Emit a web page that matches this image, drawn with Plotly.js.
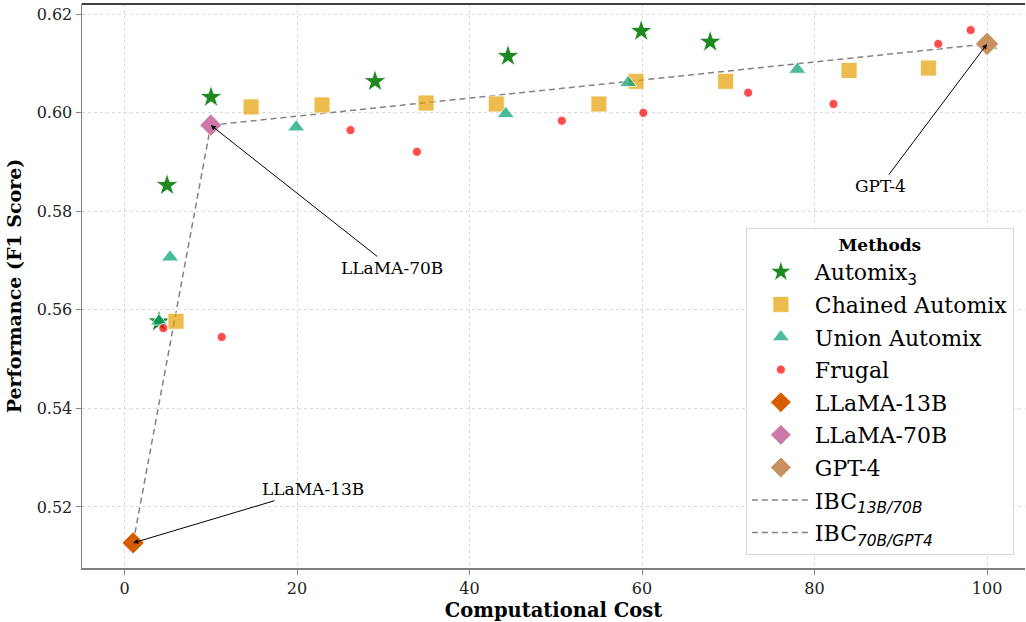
<!DOCTYPE html>
<html>
<head>
<meta charset="utf-8">
<script src="https://cdn.plot.ly/plotly-3.0.1.min.js"></script>
<style>html,body{margin:0;padding:0;background:#fff;}#chart{width:1026px;height:622px;}</style>
</head>
<body>
<div id="chart"></div>
<script>
// ---- data ----
const automixX = [4.0, 4.93, 10.03, 29.04, 44.46, 59.9, 67.9];
const automixY = [0.5576, 0.5853, 0.6032, 0.6064, 0.6115, 0.6166, 0.6144];

const chainedX = [5.97, 14.67, 22.9, 34.96, 43.1, 55.0, 59.3, 69.7, 84.0, 93.2];
const chainedY = [0.5577, 0.6012, 0.6016, 0.6020, 0.6018, 0.6018, 0.6064, 0.6064, 0.6086, 0.6091];

const unionX = [4.0, 5.28, 19.9, 44.2, 58.4, 78.0, 100.3];
const unionY = [0.5577, 0.5707, 0.5971, 0.5998, 0.6061, 0.6088, 0.6137];

const frugalX = [4.5, 11.27, 26.2, 33.9, 50.7, 60.15, 72.3, 82.2, 94.35, 98.1];
const frugalY = [0.5563, 0.5545, 0.5965, 0.5921, 0.5984, 0.6000, 0.6041, 0.6018, 0.6140, 0.6168];

const llama13 = {x: 1.0, y: 0.5127};
const llama70 = {x: 10.0, y: 0.5975};
const gpt4 = {x: 100.0, y: 0.6140};

const ibc1X = [llama13.x, llama70.x], ibc1Y = [llama13.y, llama70.y];
const ibc2X = [llama70.x, gpt4.x], ibc2Y = [llama70.y, gpt4.y];

const labels = {
  automix: 'Automix<sub><span style="font-family:DejaVu Sans">3</span></sub>',
  chained: 'Chained Automix',
  union: 'Union Automix',
  frugal: 'Frugal',
  l13: 'LLaMA-13B',
  l70: 'LLaMA-70B',
  gpt: 'GPT-4',
  ibc1: 'IBC<sub><span style="font-family:DejaVu Sans"><i>13B/70B</i></span></sub>',
  ibc2: 'IBC<sub><span style="font-family:DejaVu Sans"><i>70B/GPT4</i></span></sub>'
};
const xTicks = [0, 20, 40, 60, 80, 100];
const yTicks = [0.52, 0.54, 0.56, 0.58, 0.60, 0.62];

const SERIF = 'DejaVu Serif, serif';
const edge = {color: 'rgba(255,255,255,0.8)', width: 1};

const traces = [
  {x: ibc1X, y: ibc1Y, mode: 'lines', name: labels.ibc1, legendrank: 8, legendgroup: 'h',
   line: {color: 'rgba(90,90,90,0.75)', width: 1.5, dash: '6px,4px'}},
  {x: ibc2X, y: ibc2Y, mode: 'lines', name: labels.ibc2, legendrank: 9, legendgroup: 'i',
   line: {color: 'rgba(90,90,90,0.75)', width: 1.5, dash: '6px,4px'}},
  {x: automixX, y: automixY, mode: 'markers', name: labels.automix, legendrank: 1, legendgroup: 'a',
   marker: {symbol: 'star', size: 17, color: 'rgba(20,130,20,0.95)', line: edge}},
  {x: chainedX, y: chainedY, mode: 'markers', name: labels.chained, legendrank: 2, legendgroup: 'b',
   marker: {symbol: 'square', size: 16, color: 'rgba(230,159,0,0.7)', line: edge}},
  {x: unionX, y: unionY, mode: 'markers', name: labels.union, legendrank: 3, legendgroup: 'c',
   marker: {symbol: 'triangle-up', size: 15, color: 'rgba(0,158,115,0.7)', line: edge}},
  {x: frugalX, y: frugalY, mode: 'markers', name: labels.frugal, legendrank: 4, legendgroup: 'd',
   marker: {symbol: 'circle', size: 9, color: 'rgba(255,0,0,0.7)', line: edge}},
  {x: [llama13.x], y: [llama13.y], mode: 'markers', name: labels.l13, legendrank: 5, legendgroup: 'e',
   marker: {symbol: 'diamond', size: 17, color: '#D55E00', line: edge}},
  {x: [llama70.x], y: [llama70.y], mode: 'markers', name: labels.l70, legendrank: 6, legendgroup: 'f',
   marker: {symbol: 'diamond', size: 17, color: '#CC79A7', line: edge}},
  {x: [gpt4.x], y: [gpt4.y], mode: 'markers', name: labels.gpt, legendrank: 7, legendgroup: 'g',
   marker: {symbol: 'diamond', size: 18, color: '#C8905E', line: edge}}
];

function ann(text, pt, tx, ty) {
  return {text: text, x: pt.x, y: pt.y, ax: tx, ay: ty, axref: 'x', ayref: 'y', xref: 'x', yref: 'y',
    showarrow: true, arrowhead: 2, arrowsize: 1, arrowwidth: 1, arrowcolor: '#000',
    font: {family: SERIF, size: 17, color: '#000'}};
}

const layout = {
  width: 1026, height: 622,
  margin: {l: 82, r: 1, t: 4, b: 54},
  paper_bgcolor: '#fff', plot_bgcolor: '#fff',
  showlegend: true,
  xaxis: {
    range: [-4.93, 104.4], tickvals: xTicks, ticktext: xTicks.map(String),
    showgrid: true, gridcolor: '#dadada', griddash: 'dot', gridwidth: 1,
    zeroline: false, showline: true, linecolor: '#808080', linewidth: 1.5,
    ticks: 'outside', ticklen: 5, tickcolor: '#808080',
    tickfont: {family: SERIF, size: 16, color: '#222'},
    title: {text: '<b>Computational Cost</b>', font: {family: SERIF, size: 19.5, color: '#000'}, standoff: 8}
  },
  yaxis: {
    range: [0.5076, 0.6221], tickvals: yTicks, ticktext: yTicks.map(v => v.toFixed(2)),
    showgrid: true, gridcolor: '#dadada', griddash: 'dot', gridwidth: 1,
    zeroline: false, showline: true, linecolor: '#808080', linewidth: 1.5,
    ticks: 'outside', ticklen: 5, tickcolor: '#808080',
    tickfont: {family: SERIF, size: 16, color: '#222'},
    title: {text: '<b>Performance (F1 Score)</b>', font: {family: SERIF, size: 19, color: '#000'}, standoff: 10}
  },
  legend: {
    x: 0.704, y: 0.603, xanchor: 'left', yanchor: 'top',
    bgcolor: 'rgba(255,255,255,0.9)', bordercolor: '#d8d8d8', borderwidth: 1,
    font: {family: SERIF, size: 22, color: '#000'},
    title: {text: '<b>Methods</b>', side: 'top center', font: {family: SERIF, size: 17, color: '#000'}},
    tracegroupgap: 1, itemwidth: 58
  },
  shapes: [
    {type: 'line', xref: 'paper', yref: 'paper', x0: 0, x1: 1, y0: 1, y1: 1, line: {color: '#000', width: 1.5}}
  ],
  annotations: [
    ann('LLaMA-70B', llama70, 31.0, 0.5685),
    ann('GPT-4', gpt4, 87.6, 0.5851),
    ann('LLaMA-13B', llama13, 21.86, 0.5236)
  ]
};

Plotly.newPlot('chart', traces, layout, {displayModeBar: false, staticPlot: true});
</script>
</body>
</html>
